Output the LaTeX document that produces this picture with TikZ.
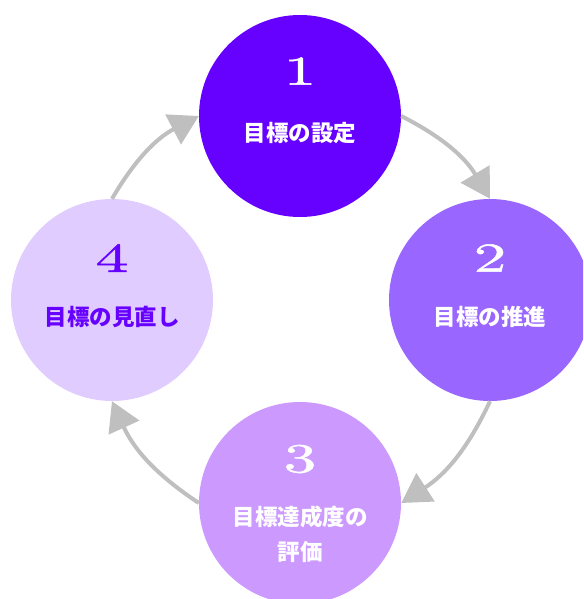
\documentclass[tikz,border=0pt]{standalone}
\usepackage{fontspec}
\newfontfamily\jpfont{Noto Sans CJK JP}
\newfontfamily\numfont{lmroman10-regular.otf}[FakeBold=1.2,FakeStretch=1.6]
\usetikzlibrary{arrows.meta}
\definecolor{cA}{HTML}{6600FF}
\definecolor{cB}{HTML}{9966FF}
\definecolor{cC}{HTML}{CC99FF}
\definecolor{cD}{HTML}{E0CCFF}
\definecolor{arr}{HTML}{BFBFBF}
\tikzset{
  stage/.style={circle, minimum size=202pt, inner sep=0pt, draw=none},
  num/.style={font=\numfont\fontsize{41}{41}\selectfont, inner sep=0pt},
  lbl/.style={font=\jpfont\bfseries\fontsize{22.5}{35}\selectfont, inner sep=0pt, align=center},
  cyc/.style={draw=arr, line width=4pt, -{Triangle[length=29pt,width=33pt]}, bend left=16}
}
\begin{document}
\begin{tikzpicture}[x=1pt,y=-1pt]
\useasboundingbox (0,0) rectangle (583,599);
\clip (0,0) rectangle (583,599);
\node[stage, fill=cA] (c1) at (300,116) {};
\node[stage, fill=cB] (c2) at (490,300) {};
\node[stage, fill=cC] (c3) at (300,503) {};
\node[stage, fill=cD] (c4) at (112,300) {};
\node[num, text=white] (n1) at (300,71) {1};
\node[lbl, text=white] (t1) at (300,133) {目標の設定};
\node[num, text=white] (n2) at (490,258) {2};
\node[lbl, text=white] (t2) at (490,317) {目標の推進};
\node[num, text=white] (n3) at (300,459) {3};
\node[lbl, text=white] (t3) at (300,534) {目標達成度の\\評価};
\node[num, text=cA] (n4) at (112,258) {4};
\node[lbl, text=cA] (t4) at (112,317) {目標の見直し};
\draw[cyc] (c1.east) to (c2.north);
\draw[cyc] (c2.south) to (c3.east);
\draw[cyc] (c3.west) to (c4.south);
\draw[cyc] (c4.north) to (c1.west);
\end{tikzpicture}
\end{document}
